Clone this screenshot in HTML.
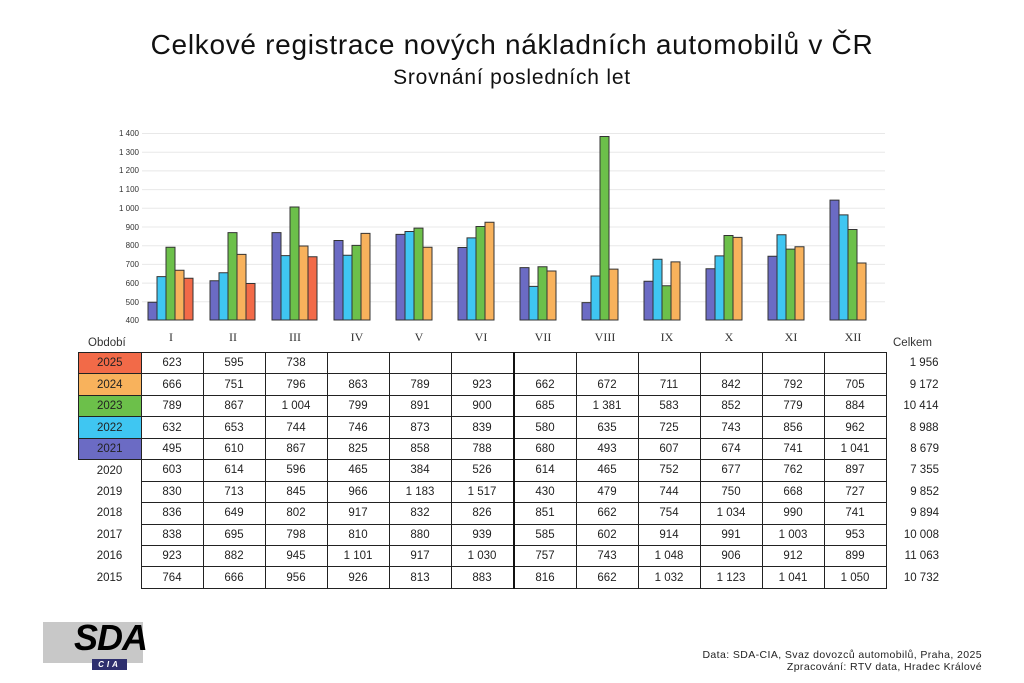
<!DOCTYPE html>
<html><head><meta charset="utf-8"><style>
body{margin:0;width:1024px;height:683px;background:#fff;position:relative;overflow:hidden;font-family:"Liberation Sans",sans-serif;}
.t{position:absolute;white-space:nowrap}
table{position:absolute;left:78px;top:352px;border-collapse:collapse;font-size:11.5px;color:#222}
td{height:20.45px;padding:0;text-align:center;width:61px;border:1px solid #222}
td.l{border:none;width:62px}
td.c{border:none;width:52px;text-align:right;padding-right:0}
td.y{border:1px solid #222;color:#222}
td.vb{border-left:2px solid #111}
</style></head><body>
<div class="t" style="left:0;width:1024px;text-align:center;top:29px;font-size:28px;letter-spacing:0.7px;color:#111">Celkové registrace nových nákladních automobilů v ČR</div>
<div class="t" style="left:0;width:1024px;text-align:center;top:66px;font-size:21px;letter-spacing:0.8px;color:#111">Srovnání posledních let</div>
<svg style="position:absolute;left:0;top:0" width="1024" height="350">
<g stroke="#e8e8e8" stroke-width="1">
<line x1="142" x2="885" y1="133.5" y2="133.5"/><line x1="142" x2="885" y1="152.2" y2="152.2"/><line x1="142" x2="885" y1="170.9" y2="170.9"/><line x1="142" x2="885" y1="189.6" y2="189.6"/><line x1="142" x2="885" y1="208.3" y2="208.3"/><line x1="142" x2="885" y1="227" y2="227"/><line x1="142" x2="885" y1="245.7" y2="245.7"/><line x1="142" x2="885" y1="264.4" y2="264.4"/><line x1="142" x2="885" y1="283.1" y2="283.1"/><line x1="142" x2="885" y1="301.8" y2="301.8"/>
</g>
<g font-size="8" fill="#333" text-anchor="end" font-family="Liberation Sans,sans-serif">
<text x="139" y="136">1 400</text><text x="139" y="155">1 300</text><text x="139" y="173">1 200</text><text x="139" y="192">1 100</text><text x="139" y="211">1 000</text><text x="139" y="230">900</text><text x="139" y="248">800</text><text x="139" y="267">700</text><text x="139" y="286">600</text><text x="139" y="305">500</text><text x="139" y="323">400</text>
</g>
<g transform="translate(0,320) scale(1,-0.187)" stroke="#333" stroke-width="1">
<g fill="#6b6bc4">
<rect vector-effect="non-scaling-stroke" x="148" y="0" width="9" height="95"/>
<rect vector-effect="non-scaling-stroke" x="210" y="0" width="9" height="210"/>
<rect vector-effect="non-scaling-stroke" x="272" y="0" width="9" height="467"/>
<rect vector-effect="non-scaling-stroke" x="334" y="0" width="9" height="425"/>
<rect vector-effect="non-scaling-stroke" x="396" y="0" width="9" height="458"/>
<rect vector-effect="non-scaling-stroke" x="458" y="0" width="9" height="388"/>
<rect vector-effect="non-scaling-stroke" x="520" y="0" width="9" height="280"/>
<rect vector-effect="non-scaling-stroke" x="582" y="0" width="9" height="93"/>
<rect vector-effect="non-scaling-stroke" x="644" y="0" width="9" height="207"/>
<rect vector-effect="non-scaling-stroke" x="706" y="0" width="9" height="274"/>
<rect vector-effect="non-scaling-stroke" x="768" y="0" width="9" height="341"/>
<rect vector-effect="non-scaling-stroke" x="830" y="0" width="9" height="641"/>
</g>
<g fill="#3fc6f2">
<rect vector-effect="non-scaling-stroke" x="157" y="0" width="9" height="232"/>
<rect vector-effect="non-scaling-stroke" x="219" y="0" width="9" height="253"/>
<rect vector-effect="non-scaling-stroke" x="281" y="0" width="9" height="344"/>
<rect vector-effect="non-scaling-stroke" x="343" y="0" width="9" height="346"/>
<rect vector-effect="non-scaling-stroke" x="405" y="0" width="9" height="473"/>
<rect vector-effect="non-scaling-stroke" x="467" y="0" width="9" height="439"/>
<rect vector-effect="non-scaling-stroke" x="529" y="0" width="9" height="180"/>
<rect vector-effect="non-scaling-stroke" x="591" y="0" width="9" height="235"/>
<rect vector-effect="non-scaling-stroke" x="653" y="0" width="9" height="325"/>
<rect vector-effect="non-scaling-stroke" x="715" y="0" width="9" height="343"/>
<rect vector-effect="non-scaling-stroke" x="777" y="0" width="9" height="456"/>
<rect vector-effect="non-scaling-stroke" x="839" y="0" width="9" height="562"/>
</g>
<g fill="#6cc04a">
<rect vector-effect="non-scaling-stroke" x="166" y="0" width="9" height="389"/>
<rect vector-effect="non-scaling-stroke" x="228" y="0" width="9" height="467"/>
<rect vector-effect="non-scaling-stroke" x="290" y="0" width="9" height="604"/>
<rect vector-effect="non-scaling-stroke" x="352" y="0" width="9" height="399"/>
<rect vector-effect="non-scaling-stroke" x="414" y="0" width="9" height="491"/>
<rect vector-effect="non-scaling-stroke" x="476" y="0" width="9" height="500"/>
<rect vector-effect="non-scaling-stroke" x="538" y="0" width="9" height="285"/>
<rect vector-effect="non-scaling-stroke" x="600" y="0" width="9" height="981"/>
<rect vector-effect="non-scaling-stroke" x="662" y="0" width="9" height="183"/>
<rect vector-effect="non-scaling-stroke" x="724" y="0" width="9" height="452"/>
<rect vector-effect="non-scaling-stroke" x="786" y="0" width="9" height="379"/>
<rect vector-effect="non-scaling-stroke" x="848" y="0" width="9" height="484"/>
</g>
<g fill="#f8b25c">
<rect vector-effect="non-scaling-stroke" x="175" y="0" width="9" height="266"/>
<rect vector-effect="non-scaling-stroke" x="237" y="0" width="9" height="351"/>
<rect vector-effect="non-scaling-stroke" x="299" y="0" width="9" height="396"/>
<rect vector-effect="non-scaling-stroke" x="361" y="0" width="9" height="463"/>
<rect vector-effect="non-scaling-stroke" x="423" y="0" width="9" height="389"/>
<rect vector-effect="non-scaling-stroke" x="485" y="0" width="9" height="523"/>
<rect vector-effect="non-scaling-stroke" x="547" y="0" width="9" height="262"/>
<rect vector-effect="non-scaling-stroke" x="609" y="0" width="9" height="272"/>
<rect vector-effect="non-scaling-stroke" x="671" y="0" width="9" height="311"/>
<rect vector-effect="non-scaling-stroke" x="733" y="0" width="9" height="442"/>
<rect vector-effect="non-scaling-stroke" x="795" y="0" width="9" height="392"/>
<rect vector-effect="non-scaling-stroke" x="857" y="0" width="9" height="305"/>
</g>
<g fill="#f26a48">
<rect vector-effect="non-scaling-stroke" x="184" y="0" width="9" height="223"/>
<rect vector-effect="non-scaling-stroke" x="246" y="0" width="9" height="195"/>
<rect vector-effect="non-scaling-stroke" x="308" y="0" width="9" height="338"/>
</g>
</g>
<g font-size="12" fill="#333" text-anchor="middle" font-family="Liberation Serif,serif">
<text x="171" y="341">I</text><text x="233" y="341">II</text><text x="295" y="341">III</text><text x="357" y="341">IV</text><text x="419" y="341">V</text><text x="481" y="341">VI</text><text x="543" y="341">VII</text><text x="605" y="341">VIII</text><text x="667" y="341">IX</text><text x="729" y="341">X</text><text x="791" y="341">XI</text><text x="853" y="341">XII</text>
</g>
<text x="88" y="346" font-size="11.5" fill="#333" font-family="Liberation Sans,sans-serif">Období</text>
<text x="893" y="346" font-size="11.5" fill="#333" font-family="Liberation Sans,sans-serif">Celkem</text>
</svg>
<table>
<tr><td class="y" style="background:#f26a48">2025</td><td>623</td><td>595</td><td>738</td><td></td><td></td><td></td><td class="vb"></td><td></td><td></td><td></td><td></td><td></td><td class="c">1 956</td></tr>
<tr><td class="y" style="background:#f8b25c">2024</td><td>666</td><td>751</td><td>796</td><td>863</td><td>789</td><td>923</td><td class="vb">662</td><td>672</td><td>711</td><td>842</td><td>792</td><td>705</td><td class="c">9 172</td></tr>
<tr><td class="y" style="background:#6cc04a">2023</td><td>789</td><td>867</td><td>1 004</td><td>799</td><td>891</td><td>900</td><td class="vb">685</td><td>1 381</td><td>583</td><td>852</td><td>779</td><td>884</td><td class="c">10 414</td></tr>
<tr><td class="y" style="background:#3fc6f2">2022</td><td>632</td><td>653</td><td>744</td><td>746</td><td>873</td><td>839</td><td class="vb">580</td><td>635</td><td>725</td><td>743</td><td>856</td><td>962</td><td class="c">8 988</td></tr>
<tr><td class="y" style="background:#6b6bc4">2021</td><td>495</td><td>610</td><td>867</td><td>825</td><td>858</td><td>788</td><td class="vb">680</td><td>493</td><td>607</td><td>674</td><td>741</td><td>1 041</td><td class="c">8 679</td></tr>
<tr><td class="l">2020</td><td>603</td><td>614</td><td>596</td><td>465</td><td>384</td><td>526</td><td class="vb">614</td><td>465</td><td>752</td><td>677</td><td>762</td><td>897</td><td class="c">7 355</td></tr>
<tr><td class="l">2019</td><td>830</td><td>713</td><td>845</td><td>966</td><td>1 183</td><td>1 517</td><td class="vb">430</td><td>479</td><td>744</td><td>750</td><td>668</td><td>727</td><td class="c">9 852</td></tr>
<tr><td class="l">2018</td><td>836</td><td>649</td><td>802</td><td>917</td><td>832</td><td>826</td><td class="vb">851</td><td>662</td><td>754</td><td>1 034</td><td>990</td><td>741</td><td class="c">9 894</td></tr>
<tr><td class="l">2017</td><td>838</td><td>695</td><td>798</td><td>810</td><td>880</td><td>939</td><td class="vb">585</td><td>602</td><td>914</td><td>991</td><td>1 003</td><td>953</td><td class="c">10 008</td></tr>
<tr><td class="l">2016</td><td>923</td><td>882</td><td>945</td><td>1 101</td><td>917</td><td>1 030</td><td class="vb">757</td><td>743</td><td>1 048</td><td>906</td><td>912</td><td>899</td><td class="c">11 063</td></tr>
<tr><td class="l">2015</td><td>764</td><td>666</td><td>956</td><td>926</td><td>813</td><td>883</td><td class="vb">816</td><td>662</td><td>1 032</td><td>1 123</td><td>1 041</td><td>1 050</td><td class="c">10 732</td></tr>
</table>
<div style="position:absolute;left:43px;top:622px;width:100px;height:41px;background:#c8c8c8"></div>
<div class="t" style="left:74px;top:617px;font-size:36px;font-weight:bold;font-style:italic;color:#000;letter-spacing:-1px">SDA</div>
<div style="position:absolute;left:92px;top:659px;width:35px;height:11px;background:#2e2f6e;color:#fff;font-size:8px;font-weight:bold;font-style:italic;text-align:center;line-height:11px;letter-spacing:3px">CIA</div>
<div class="t" style="right:42px;top:650px;font-size:10.5px;letter-spacing:0.4px;color:#222;text-align:right;line-height:11.5px">Data: SDA-CIA, Svaz dovozců automobilů, Praha, 2025<br>Zpracování: RTV data, Hradec Králové</div>
</body></html>
